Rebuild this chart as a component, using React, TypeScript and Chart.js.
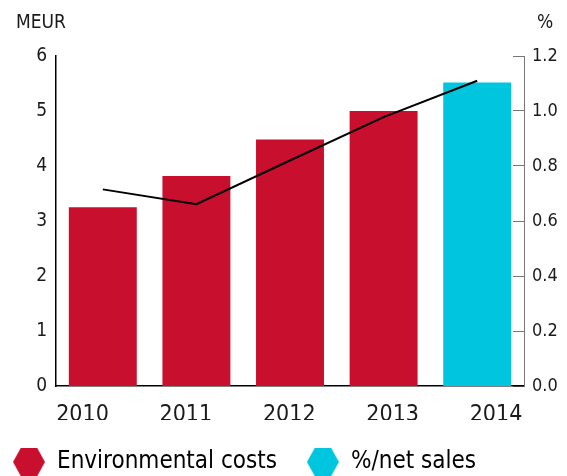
import React, { useEffect, useRef } from "react";
import { Chart, registerables } from "chart.js";

Chart.register(...registerables);

const years = ["2010", "2011", "2012", "2013", "2014"];
const envCosts = [3.25, 3.82, 4.48, 5.0, 5.52];
const pctNetSales = [0.715, 0.661, 0.82, 0.978, 1.11];
const leftTicks = [0, 1, 2, 3, 4, 5, 6];
const rightTicks = [0, 0.2, 0.4, 0.6, 0.8, 1.0, 1.2];

const RED = "#C8102E";
const CYAN = "#00C5DF";
const FONT = "'DejaVu Sans Condensed', 'DejaVu Sans', sans-serif";
const TEXT = "#1a1a1a";

function hexagon(color: string): HTMLCanvasElement {
  const c = document.createElement("canvas");
  const w = 32, h = 29;
  c.width = w;
  c.height = h;
  const ctx = c.getContext("2d")!;
  ctx.fillStyle = color;
  ctx.beginPath();
  ctx.moveTo(0, h / 2);
  ctx.lineTo(8, 0);
  ctx.lineTo(w - 8, 0);
  ctx.lineTo(w, h / 2);
  ctx.lineTo(w - 8, h);
  ctx.lineTo(8, h);
  ctx.closePath();
  ctx.fill();
  return c;
}

const unitsPlugin = {
  id: "units",
  afterDraw(chart: any) {
    const ctx = chart.ctx;
    ctx.save();
    ctx.font = `19px ${FONT}`;
    ctx.fillStyle = TEXT;
    ctx.textBaseline = "alphabetic";
    ctx.textAlign = "left";
    ctx.fillText("MEUR", 16, 28);
    ctx.fillText("%", 537, 28);
    ctx.restore();
  },
};

export default function App() {
  const ref = useRef<HTMLCanvasElement>(null);
  useEffect(() => {
    if (!ref.current) return;
    const hexRed = hexagon(RED);
    const hexCyan = hexagon(CYAN);
    const barColors = envCosts.map((_, i) => (i === envCosts.length - 1 ? CYAN : RED));
    const chart = new Chart(ref.current, {
      type: "bar",
      data: {
        labels: years,
        datasets: [
          {
            type: "line",
            label: "%/net sales",
            data: pctNetSales,
            yAxisID: "y1",
            xAxisID: "x",
            borderColor: "#000",
            borderWidth: 2,
            pointRadius: 0,
            tension: 0,
            order: 1,
          } as any,
          {
            type: "bar",
            label: "Environmental costs",
            data: envCosts,
            yAxisID: "y",
            xAxisID: "x",
            backgroundColor: barColors,
            borderWidth: 0,
            categoryPercentage: 1,
            barPercentage: 0.726,
            order: 2,
          },
        ],
      },
      options: {
        animation: false,
        responsive: false,
        layout: { padding: { left: -17, right: 0, top: 56, bottom: -8 } },
        plugins: {
          tooltip: { enabled: false },
          legend: {
            position: "bottom",
            align: "start",
            labels: {
              usePointStyle: true,
              pointStyleWidth: 32,
              padding: 30,
              color: TEXT,
              font: { family: FONT, size: 24 },
              generateLabels: () => [
                { text: "Environmental costs", fillStyle: RED, strokeStyle: RED, lineWidth: 0, pointStyle: hexRed as any, hidden: false, datasetIndex: 1 } as any,
                { text: "%/net sales", fillStyle: CYAN, strokeStyle: CYAN, lineWidth: 0, pointStyle: hexCyan as any, hidden: false, datasetIndex: 0 } as any,
              ],
            },
          },
        },
        scales: {
          x: {
            type: "category",
            position: "bottom",
            offset: true,
            grid: { display: false, drawTicks: false },
            border: { display: true, color: "#000", width: 1.5 },
            ticks: { display: false },
            afterFit: (s: any) => { s.height = 0; },
          },
          x2: {
            type: "linear",
            position: "bottom",
            offset: false,
            min: -0.2563,
            max: 4.2708,
            grid: { display: false, drawTicks: false, offset: false },
            border: { display: false },
            afterBuildTicks: (s: any) => { s.ticks = years.map((_, i) => ({ value: i })); },
            ticks: {
              padding: 15,
              color: TEXT,
              font: { family: FONT, size: 23 },
              maxRotation: 0,
              autoSkip: false,
              callback: (_v: any, i: number) => years[i],
            },
            afterFit: (s: any) => { s.height = 34; },
          },
          y: {
            type: "linear",
            position: "left",
            min: 0,
            max: 6,
            afterBuildTicks: (s: any) => { s.ticks = leftTicks.map((v) => ({ value: v })); },
            grid: { display: false, drawTicks: false },
            border: { display: true, color: "#000", width: 1.5 },
            ticks: { padding: 9, color: TEXT, font: { family: FONT, size: 19 } },
            afterFit: (s: any) => { s.width = 73; },
          },
          y1: {
            type: "linear",
            position: "right",
            min: 0,
            max: 1.2,
            afterBuildTicks: (s: any) => { s.ticks = rightTicks.map((v) => ({ value: v })); },
            grid: { drawOnChartArea: false, drawTicks: true, tickLength: -11, color: "#777", lineWidth: 1 },
            border: { display: true, color: "#777", width: 1 },
            ticks: {
              padding: 19,
              color: TEXT,
              font: { family: FONT, size: 18 },
              callback: (v: any) => Number(v).toFixed(1),
            },
            afterFit: (s: any) => { s.width = 43; },
          },
        },
      },
      plugins: [unitsPlugin],
    });
    return () => chart.destroy();
  }, []);
  return (
    <div style={{ position: "fixed", left: 0, top: 0, width: 567, height: 476, background: "#fff" }}>
      <canvas ref={ref} width={567} height={476} style={{ display: "block" }} />
    </div>
  );
}
